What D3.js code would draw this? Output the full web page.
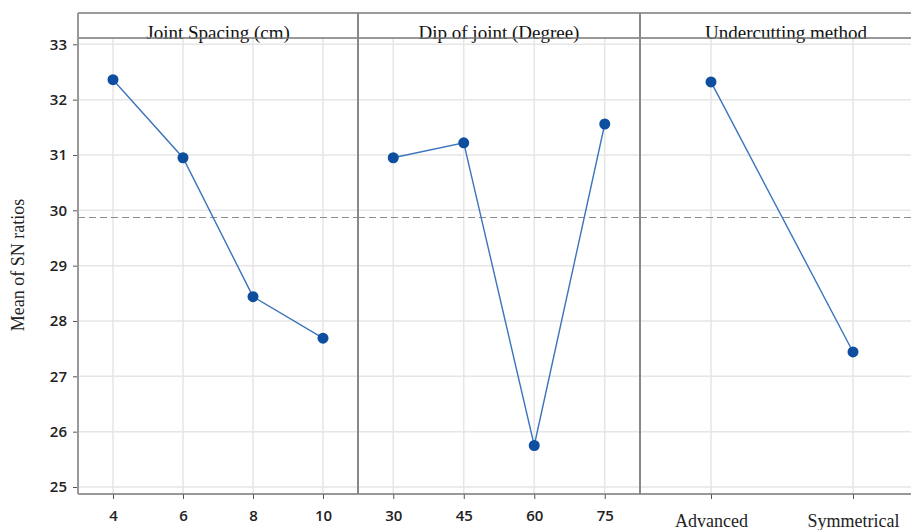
<!DOCTYPE html>
<html>
<head>
<meta charset="utf-8">
<script src="https://cdn.jsdelivr.net/npm/d3@7"></script>
<style>
  body { margin: 0; background: #fff; }
  svg { display: block; }
</style>
</head>
<body>
<div id="chart"></div>
<script>
// main effects plot for SN ratios
let titles = ["Joint Spacing  (cm)", "Dip of joint (Degree)", "Undercutting  method"];
let spacingLevels = ["4", "6", "8", "10"];
let spacingValues = [32.36, 30.95, 28.44, 27.69];
let dipLevels = ["30", "45", "60", "75"];
let dipValues = [30.95, 31.22, 25.75, 31.56];
let methodLevels = ["Advanced", "Symmetrical"];
let methodValues = [32.32, 27.44];
let meanSN = 29.87;
let yTicks = [25, 26, 27, 28, 29, 30, 31, 32, 33];

let width = 911, height = 530;
let frameTop = 13, headerBottom = 38, frameBottom = 494;
let panelEdges = [[78, 358], [358, 640], [640, 924]];

let panels = [
  {title: titles[0], levels: spacingLevels, values: spacingValues, serif: false},
  {title: titles[1], levels: dipLevels, values: dipValues, serif: false},
  {title: titles[2], levels: methodLevels, values: methodValues, serif: true}
];

let svg = d3.select("#chart")
  .append("svg")
  .attr("width", width)
  .attr("height", height);

let y = d3.scaleLinear()
  .domain([25, 33])
  .range([487, 44.3]);

let sans = "'Open Sans', 'Noto Sans', sans-serif";
let serif = "'Liberation Serif', 'DejaVu Serif', serif";

panels.forEach(function(p, i) {
  let x0 = panelEdges[i][0], x1 = panelEdges[i][1];
  let x = d3.scalePoint()
    .domain(p.levels)
    .range([x0, x1])
    .padding(0.5);

  let g = svg.append("g");

  //grid
  g.selectAll(".hgrid")
    .data(yTicks)
    .enter()
    .append("line")
    .attr("x1", x0).attr("x2", Math.min(x1, width))
    .attr("y1", function(d) { return y(d); })
    .attr("y2", function(d) { return y(d); })
    .attr("stroke", "#e6e6e6")
    .attr("stroke-width", 1.5);

  g.selectAll(".vgrid")
    .data(p.levels)
    .enter()
    .append("line")
    .attr("x1", function(d) { return x(d); })
    .attr("x2", function(d) { return x(d); })
    .attr("y1", headerBottom).attr("y2", frameBottom)
    .attr("stroke", "#e6e6e6")
    .attr("stroke-width", 1.5);

  //mean reference line
  g.append("line")
    .attr("x1", x0).attr("x2", Math.min(x1, width))
    .attr("y1", y(meanSN)).attr("y2", y(meanSN))
    .attr("stroke", "#8c8c8c")
    .attr("stroke-width", 1.2)
    .attr("stroke-dasharray", "7,4");

  //x axis
  let xAxis = d3.axisBottom(x).tickSize(5).tickPadding(10);
  let ax = g.append("g")
    .attr("transform", "translate(0," + frameBottom + ")")
    .call(xAxis);
  ax.select(".domain").remove();
  ax.selectAll(".tick line").attr("stroke", "#555");
  ax.selectAll(".tick text")
    .attr("font-family", p.serif ? serif : sans)
    .attr("font-size", p.serif ? "18px" : "15px")
    .attr("font-weight", p.serif ? "normal" : "600")
    .attr("fill", "#222")
    .attr("dy", p.serif ? "1.0em" : "0.8em");

  //data line and points
  let data = p.levels.map(function(l, k) { return [l, p.values[k]]; });
  g.append("path")
    .datum(data)
    .attr("fill", "none")
    .attr("stroke", "#3b74bd")
    .attr("stroke-width", 1.4)
    .attr("d", d3.line()
      .x(function(d) { return x(d[0]); })
      .y(function(d) { return y(d[1]); }));

  g.selectAll("circle")
    .data(data)
    .enter()
    .append("circle")
    .attr("cx", function(d) { return x(d[0]); })
    .attr("cy", function(d) { return y(d[1]); })
    .attr("r", 5.5)
    .attr("fill", "#0d4f9e");

  //header title
  g.append("text")
    .attr("x", (x0 + x1) / 2 + (i === 2 ? 4 : 0))
    .attr("y", 39)
    .attr("text-anchor", "middle")
    .attr("font-family", serif)
    .attr("font-size", "19px")
    .attr("fill", "#111")
    .text(p.title);
});

//frame lines
svg.append("line")
  .attr("x1", 78).attr("x2", width)
  .attr("y1", frameTop).attr("y2", frameTop)
  .attr("stroke", "#9a9a9a").attr("stroke-width", 2);
svg.append("line")
  .attr("x1", 78).attr("x2", width)
  .attr("y1", headerBottom).attr("y2", headerBottom)
  .attr("stroke", "#777").attr("stroke-width", 1.5);
svg.append("line")
  .attr("x1", 78).attr("x2", width)
  .attr("y1", frameBottom).attr("y2", frameBottom)
  .attr("stroke", "#777").attr("stroke-width", 1.5);
svg.append("line")
  .attr("x1", 78).attr("x2", 78)
  .attr("y1", frameTop).attr("y2", frameBottom)
  .attr("stroke", "#999").attr("stroke-width", 2);
svg.selectAll(".sep")
  .data([358, 640])
  .enter()
  .append("line")
  .attr("x1", function(d) { return d; })
  .attr("x2", function(d) { return d; })
  .attr("y1", frameTop).attr("y2", frameBottom)
  .attr("stroke", "#888").attr("stroke-width", 2);

//y axis
let yAxis = d3.axisLeft(y).tickValues(yTicks).tickSize(4).tickPadding(6);
let ay = svg.append("g")
  .attr("transform", "translate(77,0)")
  .call(yAxis);
ay.select(".domain").remove();
ay.selectAll(".tick line").attr("stroke", "#555");
ay.selectAll(".tick text")
  .attr("font-family", sans)
  .attr("font-size", "15px")
  .attr("font-weight", "600")
  .attr("fill", "#222");

svg.append("text")
  .attr("transform", "translate(24,265) rotate(-90)")
  .attr("text-anchor", "middle")
  .attr("font-family", serif)
  .attr("font-size", "18px")
  .attr("fill", "#222")
  .text("Mean of SN ratios");
</script>
</body>
</html>
